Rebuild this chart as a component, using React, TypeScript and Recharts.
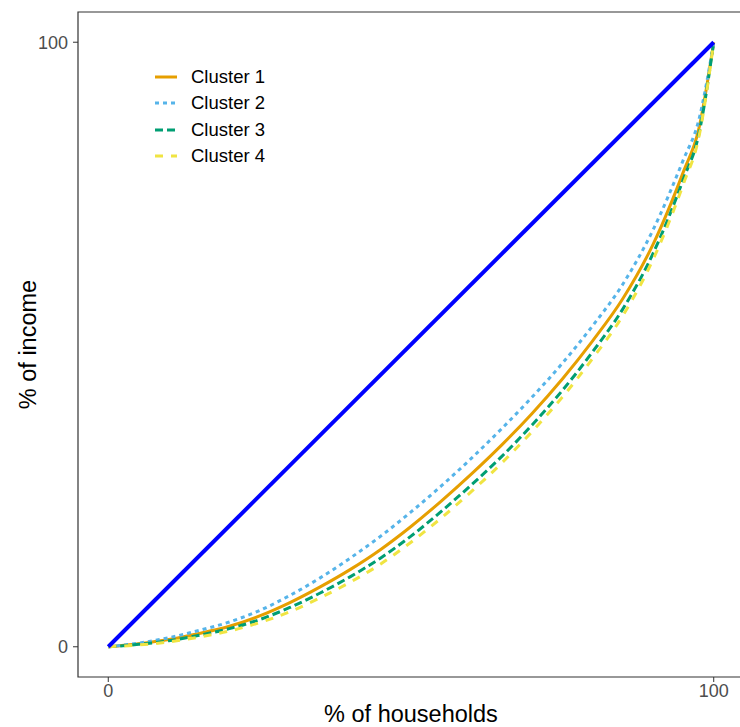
import React from 'react'
import { LineChart, Line, XAxis, YAxis, ReferenceArea } from 'recharts'

// share of households (x) and cumulative share of income (y)
const shares = [0, 5, 10, 15, 20, 25, 30, 35, 40, 45, 50, 55, 60, 65, 70, 75, 80, 85, 90, 95, 97.5, 100]
const cluster1 = [0, 0.5, 1.2, 2.2, 3.4, 5.1, 7.3, 9.9, 12.8, 16.1, 19.9, 24.1, 28.6, 33.4, 38.6, 44.3, 50.6, 57.6, 66.6, 78.6, 85.5, 100]
const cluster2 = [0, 0.6, 1.5, 2.7, 4.1, 6.0, 8.5, 11.4, 14.7, 18.3, 22.3, 26.6, 31.2, 36.1, 41.3, 46.9, 53.1, 60.0, 69.0, 80.6, 87.0, 100]
const cluster3 = [0, 0.4, 1.0, 1.9, 3.0, 4.5, 6.5, 8.9, 11.6, 14.7, 18.3, 22.4, 26.8, 31.5, 36.7, 42.4, 48.8, 55.9, 65.1, 77.4, 84.6, 100]
const cluster4 = [0, 0.3, 0.8, 1.6, 2.6, 4.0, 5.8, 8.1, 10.7, 13.7, 17.3, 21.3, 25.7, 30.4, 35.6, 41.3, 47.7, 54.8, 64.1, 76.6, 84.1, 100]
const equality = [0, 100]
const ticks = [0, 100]

const toPoints = (ys: number[]) => shares.map((x, i) => ({ x, y: ys[i] }))
const diagonal = equality.map((v) => ({ x: v, y: v }))

const series = [
  { name: 'Cluster 1', color: '#E69F00', dash: undefined, data: toPoints(cluster1) },
  { name: 'Cluster 2', color: '#56B4E9', dash: '4 4', data: toPoints(cluster2) },
  { name: 'Cluster 3', color: '#009E73', dash: '8 4', data: toPoints(cluster3) },
  { name: 'Cluster 4', color: '#F0E442', dash: '8 8', data: toPoints(cluster4) },
]

const font = '"Liberation Sans", Arial, sans-serif'

function LegendBox() {
  return (
    <div style={{ position: 'absolute', left: 155, top: 64, fontFamily: font, fontSize: 18.5, color: '#000' }}>
      {series.map((s) => (
        <div key={s.name} style={{ display: 'flex', alignItems: 'center', height: 26.3 }}>
          <svg width={36} height={10}>
            <line x1={0} y1={5} x2={22} y2={5} stroke={s.color} strokeWidth={3} strokeDasharray={s.dash} />
          </svg>
          <span>{s.name}</span>
        </div>
      ))}
    </div>
  )
}

export default function App() {
  return (
    <div style={{ position: 'absolute', left: 0, top: 0, width: 740, height: 727, overflow: 'hidden', background: '#fff' }}>
      <LineChart width={750} height={727} margin={{ top: 12, right: 6, left: 0, bottom: 0 }}>
        <XAxis
          type="number"
          dataKey="x"
          domain={[-5, 105]}
          ticks={ticks}
          allowDataOverflow
          height={50}
          tickSize={5}
          tickMargin={2}
          axisLine={false}
          tickLine={{ stroke: '#333', strokeWidth: 1 }}
          tick={{ fill: '#4D4D4D', fontSize: 18, fontFamily: font }}
          label={{ value: '% of households', position: 'insideBottom', offset: 5, fill: '#000', fontSize: 23.5, fontFamily: font }}
        />
        <YAxis
          type="number"
          dataKey="y"
          domain={[-5, 105]}
          ticks={ticks}
          allowDataOverflow
          width={78}
          tickSize={5}
          tickMargin={5}
          axisLine={false}
          tickLine={{ stroke: '#333', strokeWidth: 1 }}
          tick={{ fill: '#4D4D4D', fontSize: 18, fontFamily: font }}
          label={{ value: '% of income', angle: -90, position: 'insideLeft', offset: 28, fill: '#000', fontSize: 23.5, fontFamily: font, style: { textAnchor: 'middle' } }}
        />
        <ReferenceArea x1={-5} x2={105} y1={-5} y2={105} fill="none" stroke="#333" strokeWidth={1.2} ifOverflow="visible" />
        {series.map((s) => (
          <Line
            key={s.name}
            data={s.data}
            dataKey="y"
            name={s.name}
            type="monotone"
            stroke={s.color}
            strokeWidth={3}
            strokeDasharray={s.dash}
            dot={false}
            isAnimationActive={false}
          />
        ))}
        <Line data={diagonal} dataKey="y" type="linear" stroke="#0000FF" strokeWidth={4} dot={false} isAnimationActive={false} />
      </LineChart>
      <LegendBox />
    </div>
  )
}
